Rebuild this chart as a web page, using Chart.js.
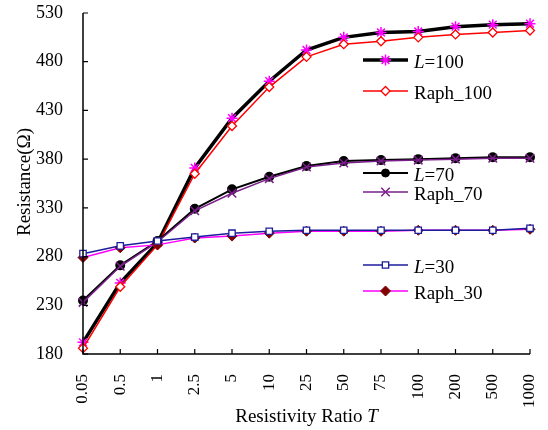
<!DOCTYPE html>
<html>
<head>
<meta charset="utf-8">
<script src="https://cdn.jsdelivr.net/npm/chart.js@4"></script>
<style>
html,body{margin:0;padding:0;background:#fff;}
#wrap{width:548px;height:430px;position:relative;}
</style>
</head>
<body>
<div id="wrap"><canvas id="c" width="548" height="430"></canvas></div>
<script>
const categories = ['0.05','0.5','1','2.5','5','10','25','50','75','100','200','500','1000'];
const L100   = [192, 253, 294, 371, 422, 460, 492, 505, 510, 511, 516, 518, 519];
const Raph100 = [186, 249, 292, 365, 414, 454, 485, 498, 501, 505, 508, 510, 512];
const L70    = [235, 271, 296, 329, 349, 362, 373, 378, 379, 380, 381, 382, 382];
const Raph70 = [233, 270, 295, 327, 345, 360, 372, 376, 378, 379, 380, 381, 381];
const L30    = [283, 291, 296, 300, 304, 306, 307, 307, 307, 307, 307, 307, 309];
const Raph30 = [279, 289, 292, 299, 301, 304, 306, 306, 306, 307, 307, 307, 308];
const yTicks = [180, 230, 280, 330, 380, 430, 480, 530];

const SERIF = "'Liberation Serif', 'Times New Roman', serif";

const datasets = [
  {label:'L30', data:L30, borderColor:'#1c1c9c', borderWidth:1.5, pointStyle:'rect', pointRadius:4.5, pointBackgroundColor:'#ffffff', pointBorderColor:'#1c1c9c', pointBorderWidth:1.3},
  {label:'Raph30', data:Raph30, borderColor:'#ff00ff', borderWidth:1.5, pointStyle:'rectRot', pointRadius:5, pointBackgroundColor:'#800000', pointBorderColor:'#800000', pointBorderWidth:1},
  {label:'Raph70', data:Raph70, borderColor:'#7a1f8a', borderWidth:1.5, pointStyle:'crossRot', pointRadius:6, pointBorderColor:'#7a1f8a', pointBorderWidth:1.5},
  {label:'L70', data:L70, borderColor:'#000000', borderWidth:2, pointStyle:'circle', pointRadius:4, pointBackgroundColor:'#000000', pointBorderColor:'#000000'},
  {label:'Raph100', data:Raph100, borderColor:'#ff0000', borderWidth:1.5, pointStyle:'rectRot', pointRadius:4.5, pointBackgroundColor:'#ffffff', pointBorderColor:'#ff0000', pointBorderWidth:1.3},
  {label:'L100', data:L100, borderColor:'#000000', borderWidth:3.5, pointStyle:'star', pointRadius:5.5, pointBorderColor:'#ff00ff', pointBorderWidth:1.5},
];
datasets.forEach(d=>{d.fill=false; d.tension=0;});

const legendItems = [
  {y:60, ds:5, italic:'L', rest:'=100'},
  {y:91, ds:4, italic:'', rest:'Raph_100'},
  {y:173, ds:3, italic:'L', rest:'=70'},
  {y:192, ds:2, italic:'', rest:'Raph_70'},
  {y:265, ds:0, italic:'L', rest:'=30'},
  {y:291, ds:1, italic:'', rest:'Raph_30'},
];

const decor = {
  id:'decor',
  afterDraw(chart){
    const ctx = chart.ctx;
    const xs = chart.scales.x, ys = chart.scales.y;
    const a = chart.chartArea;
    ctx.save();
    ctx.strokeStyle = '#000'; ctx.lineWidth = 1.5;
    ctx.beginPath();
    ctx.moveTo(a.left, a.top); ctx.lineTo(a.left, a.bottom); ctx.lineTo(a.right, a.bottom);
    ctx.stroke();
    ctx.lineWidth = 1.2;
    ctx.beginPath();
    yTicks.forEach(v=>{const py = ys.getPixelForValue(v); ctx.moveTo(a.left, py); ctx.lineTo(a.left+5, py);});
    categories.forEach((c,i)=>{const px = xs.getPixelForValue(i); ctx.moveTo(px, a.bottom); ctx.lineTo(px, a.bottom-5);});
    ctx.stroke();

    ctx.fillStyle = '#000';
    ctx.textBaseline = 'middle';
    const t1 = 'Resistivity Ratio ';
    ctx.font = "19px " + SERIF; const w1 = ctx.measureText(t1).width;
    ctx.font = "italic 19px " + SERIF; const w2 = ctx.measureText('T').width;
    const cx = (a.left + a.right)/2;
    let sx = cx - (w1+w2)/2;
    ctx.textAlign = 'left';
    ctx.font = "19px " + SERIF; ctx.fillText(t1, sx, 417);
    ctx.font = "italic 19px " + SERIF; ctx.fillText('T', sx + w1, 417);

    ctx.save();
    ctx.translate(25, 182);
    ctx.rotate(-Math.PI/2);
    ctx.textAlign = 'center';
    ctx.font = "19px " + SERIF;
    ctx.fillText('Resistance(Ω)', 0, 0);
    ctx.restore();

    legendItems.forEach(it=>{
      const d = chart.data.datasets[it.ds];
      ctx.save();
      ctx.strokeStyle = d.borderColor; ctx.lineWidth = d.borderWidth;
      ctx.beginPath(); ctx.moveTo(363, it.y); ctx.lineTo(408, it.y); ctx.stroke();
      ctx.fillStyle = d.pointBackgroundColor || d.pointBorderColor;
      ctx.strokeStyle = d.pointBorderColor;
      ctx.lineWidth = d.pointBorderWidth || 1;
      Chart.helpers.drawPoint(ctx, {pointStyle:d.pointStyle, radius:d.pointRadius, borderWidth:d.pointBorderWidth||1, rotation:0}, 385.5, it.y);
      ctx.restore();
      ctx.fillStyle = '#000';
      ctx.textAlign = 'left'; ctx.textBaseline = 'middle';
      let tx = 414;
      if (it.italic){
        ctx.font = "italic 19px " + SERIF;
        ctx.fillText(it.italic, tx, it.y+3);
        tx += ctx.measureText(it.italic).width;
      }
      ctx.font = "19px " + SERIF;
      ctx.fillText(it.rest, tx, it.y+3);
    });
    ctx.restore();
  }
};

new Chart(document.getElementById('c'), {
  type:'line',
  data:{labels:categories, datasets:datasets},
  options:{
    responsive:false, animation:false,
    layout:{padding:{left:0, right:18, top:13, bottom:0}},
    plugins:{legend:{display:false}, tooltip:{enabled:false}},
    scales:{
      x:{
        offset:false,
        grid:{display:false}, border:{display:false},
        ticks:{color:'#000', font:{family:SERIF, size:17}, maxRotation:90, minRotation:90, padding:12, autoSkip:false},
        afterFit(s){ s.height = 76; s.paddingLeft = 0; s.paddingRight = 0; }
      },
      y:{
        min:180, max:530,
        grid:{display:false}, border:{display:false},
        afterBuildTicks(s){ s.ticks = yTicks.map(v=>({value:v})); },
        ticks:{color:'#000', font:{family:SERIF, size:18}, padding:12},
        afterFit(s){ s.width = 83; s.paddingTop = 0; s.paddingBottom = 0; }
      }
    }
  },
  plugins:[decor]
});
</script>
</body>
</html>
